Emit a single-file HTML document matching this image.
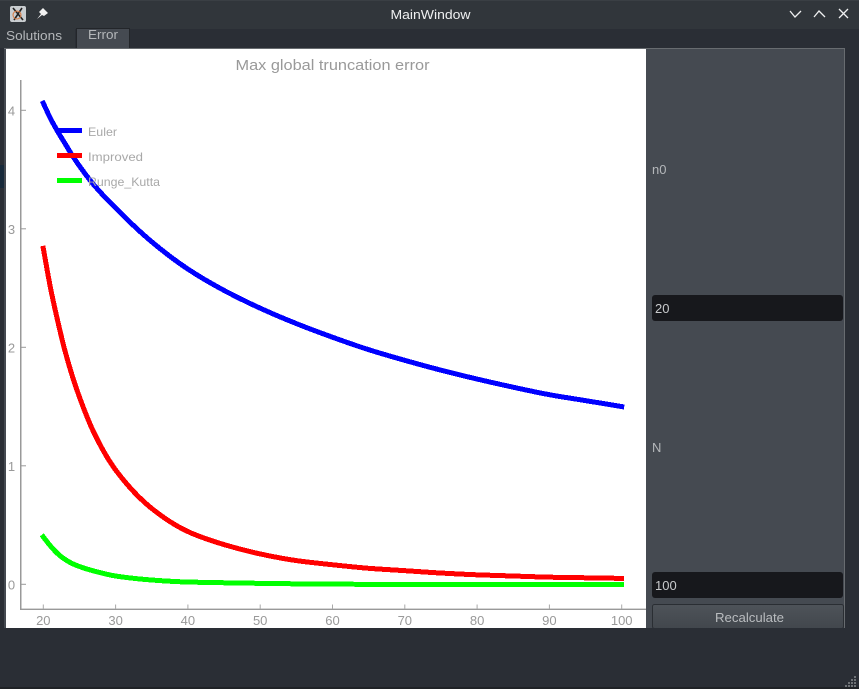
<!DOCTYPE html>
<html>
<head>
<meta charset="utf-8">
<title>MainWindow</title>
<style>
html,body{margin:0;padding:0;background:#2a2e35;width:859px;height:689px;overflow:hidden}
svg{display:block;position:absolute;left:0;top:0}
text{font-family:"Liberation Sans",sans-serif}
</style>
</head>
<body>
<svg id="root" width="859" height="689" viewBox="0 0 859 689">
  <defs>
    <linearGradient id="btnGrad" x1="0" y1="0" x2="0" y2="1">
      <stop offset="0" stop-color="#4e5359"/>
      <stop offset="1" stop-color="#42474d"/>
    </linearGradient>
  </defs>
  <rect x="0" y="0" width="859" height="689" fill="#2a2e35"/>
  <rect x="0" y="0" width="859" height="29" fill="#31363b"/>
  <rect x="0" y="165" width="4" height="23" fill="#17293a"/>
  <rect x="0" y="0" width="859" height="1" fill="#3a3f44"/>

  <g>
    <rect x="10" y="6" width="16" height="16" rx="2" fill="#c9cdd0"/>
    <path d="M13 8 L23 20 M22 8 L14 20" stroke="#222" stroke-width="1.6" fill="none"/>
    <circle cx="17" cy="15" r="4" fill="none" stroke="#d9793f" stroke-width="1"/>
  </g>
  <g>
    <path d="M37 19 L41 14 L39 12 L43 8 L48 13 L44 16 L42 15 Z" fill="#f2f2f2"/>
  </g>
  <text x="430.5" y="19" text-anchor="middle" font-size="13" fill="#eff0f1" textLength="80" lengthAdjust="spacingAndGlyphs">MainWindow</text>
  <path d="M790 11 L795 17 L801 11" stroke="#eff0f1" stroke-width="1.3" fill="none"/>
  <path d="M814 17 L819 11 L825 17" stroke="#eff0f1" stroke-width="1.3" fill="none"/>
  <path d="M839 9 L848 18 M848 9 L839 18" stroke="#eff0f1" stroke-width="1.3" fill="none"/>

  <g>
    <rect x="0" y="29" width="75" height="19" fill="#31363b"/>
    <text x="6" y="40" font-size="13" fill="#b4b7ba" textLength="56" lengthAdjust="spacingAndGlyphs">Solutions</text>
  </g>
  <g>
    <rect x="76.5" y="28.5" width="53" height="20" fill="#454a51" stroke="#23262a"/>
    <text x="88" y="39" font-size="13" fill="#b4b7ba" textLength="30" lengthAdjust="spacingAndGlyphs">Error</text>
  </g>

  <rect x="4" y="48" width="840" height="580" fill="#454a51"/>
  <rect x="844" y="48" width="1" height="580" fill="#686c70"/>
  <rect x="4" y="48" width="841" height="1" fill="#686c70"/>
  <rect x="6" y="49" width="640" height="579" fill="#ffffff"/>

  <text x="332.5" y="70" text-anchor="middle" font-size="15" fill="#999999" textLength="194" lengthAdjust="spacingAndGlyphs">Max global truncation error</text>

  <g id="chart"></g>

  <g>
    <g>
      <rect x="57" y="128" width="25" height="5" fill="#0000ff"/>
      <text x="88" y="136" font-size="12" fill="#a8a8a8" textLength="29" lengthAdjust="spacingAndGlyphs">Euler</text>
    </g>
    <g>
      <rect x="57" y="153" width="25" height="5" fill="#ff0000"/>
      <text x="88" y="161" font-size="12" fill="#a8a8a8" textLength="55" lengthAdjust="spacingAndGlyphs">Improved</text>
    </g>
    <g>
      <rect x="57" y="178" width="25" height="5" fill="#00ff00"/>
      <text x="88" y="186" font-size="12" fill="#a8a8a8" textLength="72" lengthAdjust="spacingAndGlyphs">Runge_Kutta</text>
    </g>
  </g>

  <text x="652" y="174" font-size="13" fill="#b4b7ba">n0</text>
  <g>
    <rect x="652" y="295" width="191" height="26" rx="3" fill="#17181c"/>
    <text x="655" y="313" font-size="13" fill="#c8cacc">20</text>
  </g>
  <text x="652" y="452" font-size="13" fill="#b4b7ba">N</text>
  <g>
    <rect x="652" y="572" width="191" height="26" rx="3" fill="#17181c"/>
    <text x="655" y="590" font-size="13" fill="#c8cacc">100</text>
  </g>
  <g>
    <rect x="652.5" y="604.5" width="191" height="24" rx="2" fill="url(#btnGrad)" stroke="#2a2e33"/>
    <text x="749.5" y="622" text-anchor="middle" font-size="13" fill="#b9bcbf" textLength="69" lengthAdjust="spacingAndGlyphs">Recalculate</text>
  </g>
  <rect x="0" y="628" width="859" height="59" fill="#2a2e35"/>
  <rect x="0" y="687" width="859" height="2" fill="#1f2226"/>
  <g fill="#6e7276">
    <rect x="854" y="676" width="2" height="2"/>
    <rect x="851" y="679" width="2" height="2"/><rect x="854" y="679" width="2" height="2"/>
    <rect x="848" y="682" width="2" height="2"/><rect x="851" y="682" width="2" height="2"/><rect x="854" y="682" width="2" height="2"/>
    <rect x="845" y="685" width="2" height="2"/><rect x="848" y="685" width="2" height="2"/><rect x="851" y="685" width="2" height="2"/><rect x="854" y="685" width="2" height="2"/>
  </g>
</svg>
<script>
const stepSizes = [20,21,22,23,24,25,27,30,35,40,45,50,55,60,65,70,75,80,85,90,95,100];
const eulerValues = [4.06,3.93,3.82,3.72,3.62,3.53,3.37,3.175,2.89,2.66,2.48,2.33,2.20,2.085,1.98,1.89,1.807,1.732,1.663,1.60,1.55,1.50];
const improvedValues = [2.835,2.50,2.22,1.97,1.76,1.58,1.28,0.965,0.64,0.445,0.335,0.256,0.20,0.165,0.135,0.115,0.095,0.08,0.07,0.06,0.055,0.05];
const rungeKuttaValues = [0.40,0.323,0.258,0.21,0.175,0.15,0.112,0.07,0.036,0.019,0.013,0.008,0.004,0.001,0.0,0.0,0.0,0.0,0.0,0.0,0.0,0.0];
const xTickLabels = [20,30,40,50,60,70,80,90,100];
const yTickLabels = [0,1,2,3,4];

const xScale = v => 43.3 + (v - 20) * 7.23;
const yScale = v => 584.3 - v * 118.5;
const NS = 'http://www.w3.org/2000/svg';
const chart = document.getElementById('chart');

function make(tag, attrs, text) {
  const el = document.createElementNS(NS, tag);
  for (const k in attrs) el.setAttribute(k, attrs[k]);
  if (text !== undefined) el.textContent = text;
  chart.appendChild(el);
  return el;
}

const yAxis = make('rect', {x: 20, y: 80, width: 1.5, height: 530, fill: '#999999'});


const xAxis = make('rect', {x: 20, y: 608.6, width: 626, height: 1.4, fill: '#999999'});



xTickLabels.forEach(t => {
  const px = xScale(t);
  const tick = make('line', {x1: px, x2: px, y1: 604.5, y2: 609, stroke: '#a8a8a8', 'stroke-width': 1});
  
  
  const label = make('text', {x: px, y: 625, 'text-anchor': 'middle', 'font-size': 13, fill: '#999999'}, String(t));
  
  
});

yTickLabels.forEach(t => {
  const py = yScale(t);
  const tick = make('line', {x1: 20, x2: 26, y1: py, y2: py, stroke: '#999999', 'stroke-width': 1});
  
  
  const label = make('text', {x: 11.5, y: py + 5, 'text-anchor': 'middle', 'font-size': 13, fill: '#999999'}, String(t));
  
  
});

// Monotone cubic path through the data points, so the curve stays smooth between readings.
function curvePath(values) {
  const xs = stepSizes.map(xScale);
  const ys = values.map(yScale);
  const n = xs.length;
  const slopes = [];
  for (let i = 0; i < n - 1; i++) slopes.push((ys[i + 1] - ys[i]) / (xs[i + 1] - xs[i]));
  const tangents = [slopes[0]];
  for (let i = 1; i < n - 1; i++) {
    if (slopes[i - 1] * slopes[i] <= 0) {
      tangents.push(0);
    } else {
      const h0 = xs[i] - xs[i - 1];
      const h1 = xs[i + 1] - xs[i];
      const w0 = 2 * h1 + h0;
      const w1 = h1 + 2 * h0;
      tangents.push((w0 + w1) / (w0 / slopes[i - 1] + w1 / slopes[i]));
    }
  }
  tangents.push(slopes[n - 2]);
  let d = 'M' + xs[0].toFixed(2) + ' ' + ys[0].toFixed(2);
  for (let i = 0; i < n - 1; i++) {
    const h = (xs[i + 1] - xs[i]) / 3;
    d += ' C' + (xs[i] + h).toFixed(2) + ' ' + (ys[i] + tangents[i] * h).toFixed(2) +
         ' ' + (xs[i + 1] - h).toFixed(2) + ' ' + (ys[i + 1] - tangents[i + 1] * h).toFixed(2) +
         ' ' + xs[i + 1].toFixed(2) + ' ' + ys[i + 1].toFixed(2);
  }
  return d;
}

const eulerLine = make('path', {d: curvePath(eulerValues), fill: 'none', stroke: '#0000ff', 'stroke-width': 5, 'stroke-linecap': 'square', 'shape-rendering': 'crispEdges'});


const improvedLine = make('path', {d: curvePath(improvedValues), fill: 'none', stroke: '#ff0000', 'stroke-width': 5, 'stroke-linecap': 'square', 'shape-rendering': 'crispEdges'});


const rungeKuttaLine = make('path', {d: curvePath(rungeKuttaValues), fill: 'none', stroke: '#00ff00', 'stroke-width': 5, 'stroke-linecap': 'square', 'shape-rendering': 'crispEdges'});


</script>
</body>
</html>
